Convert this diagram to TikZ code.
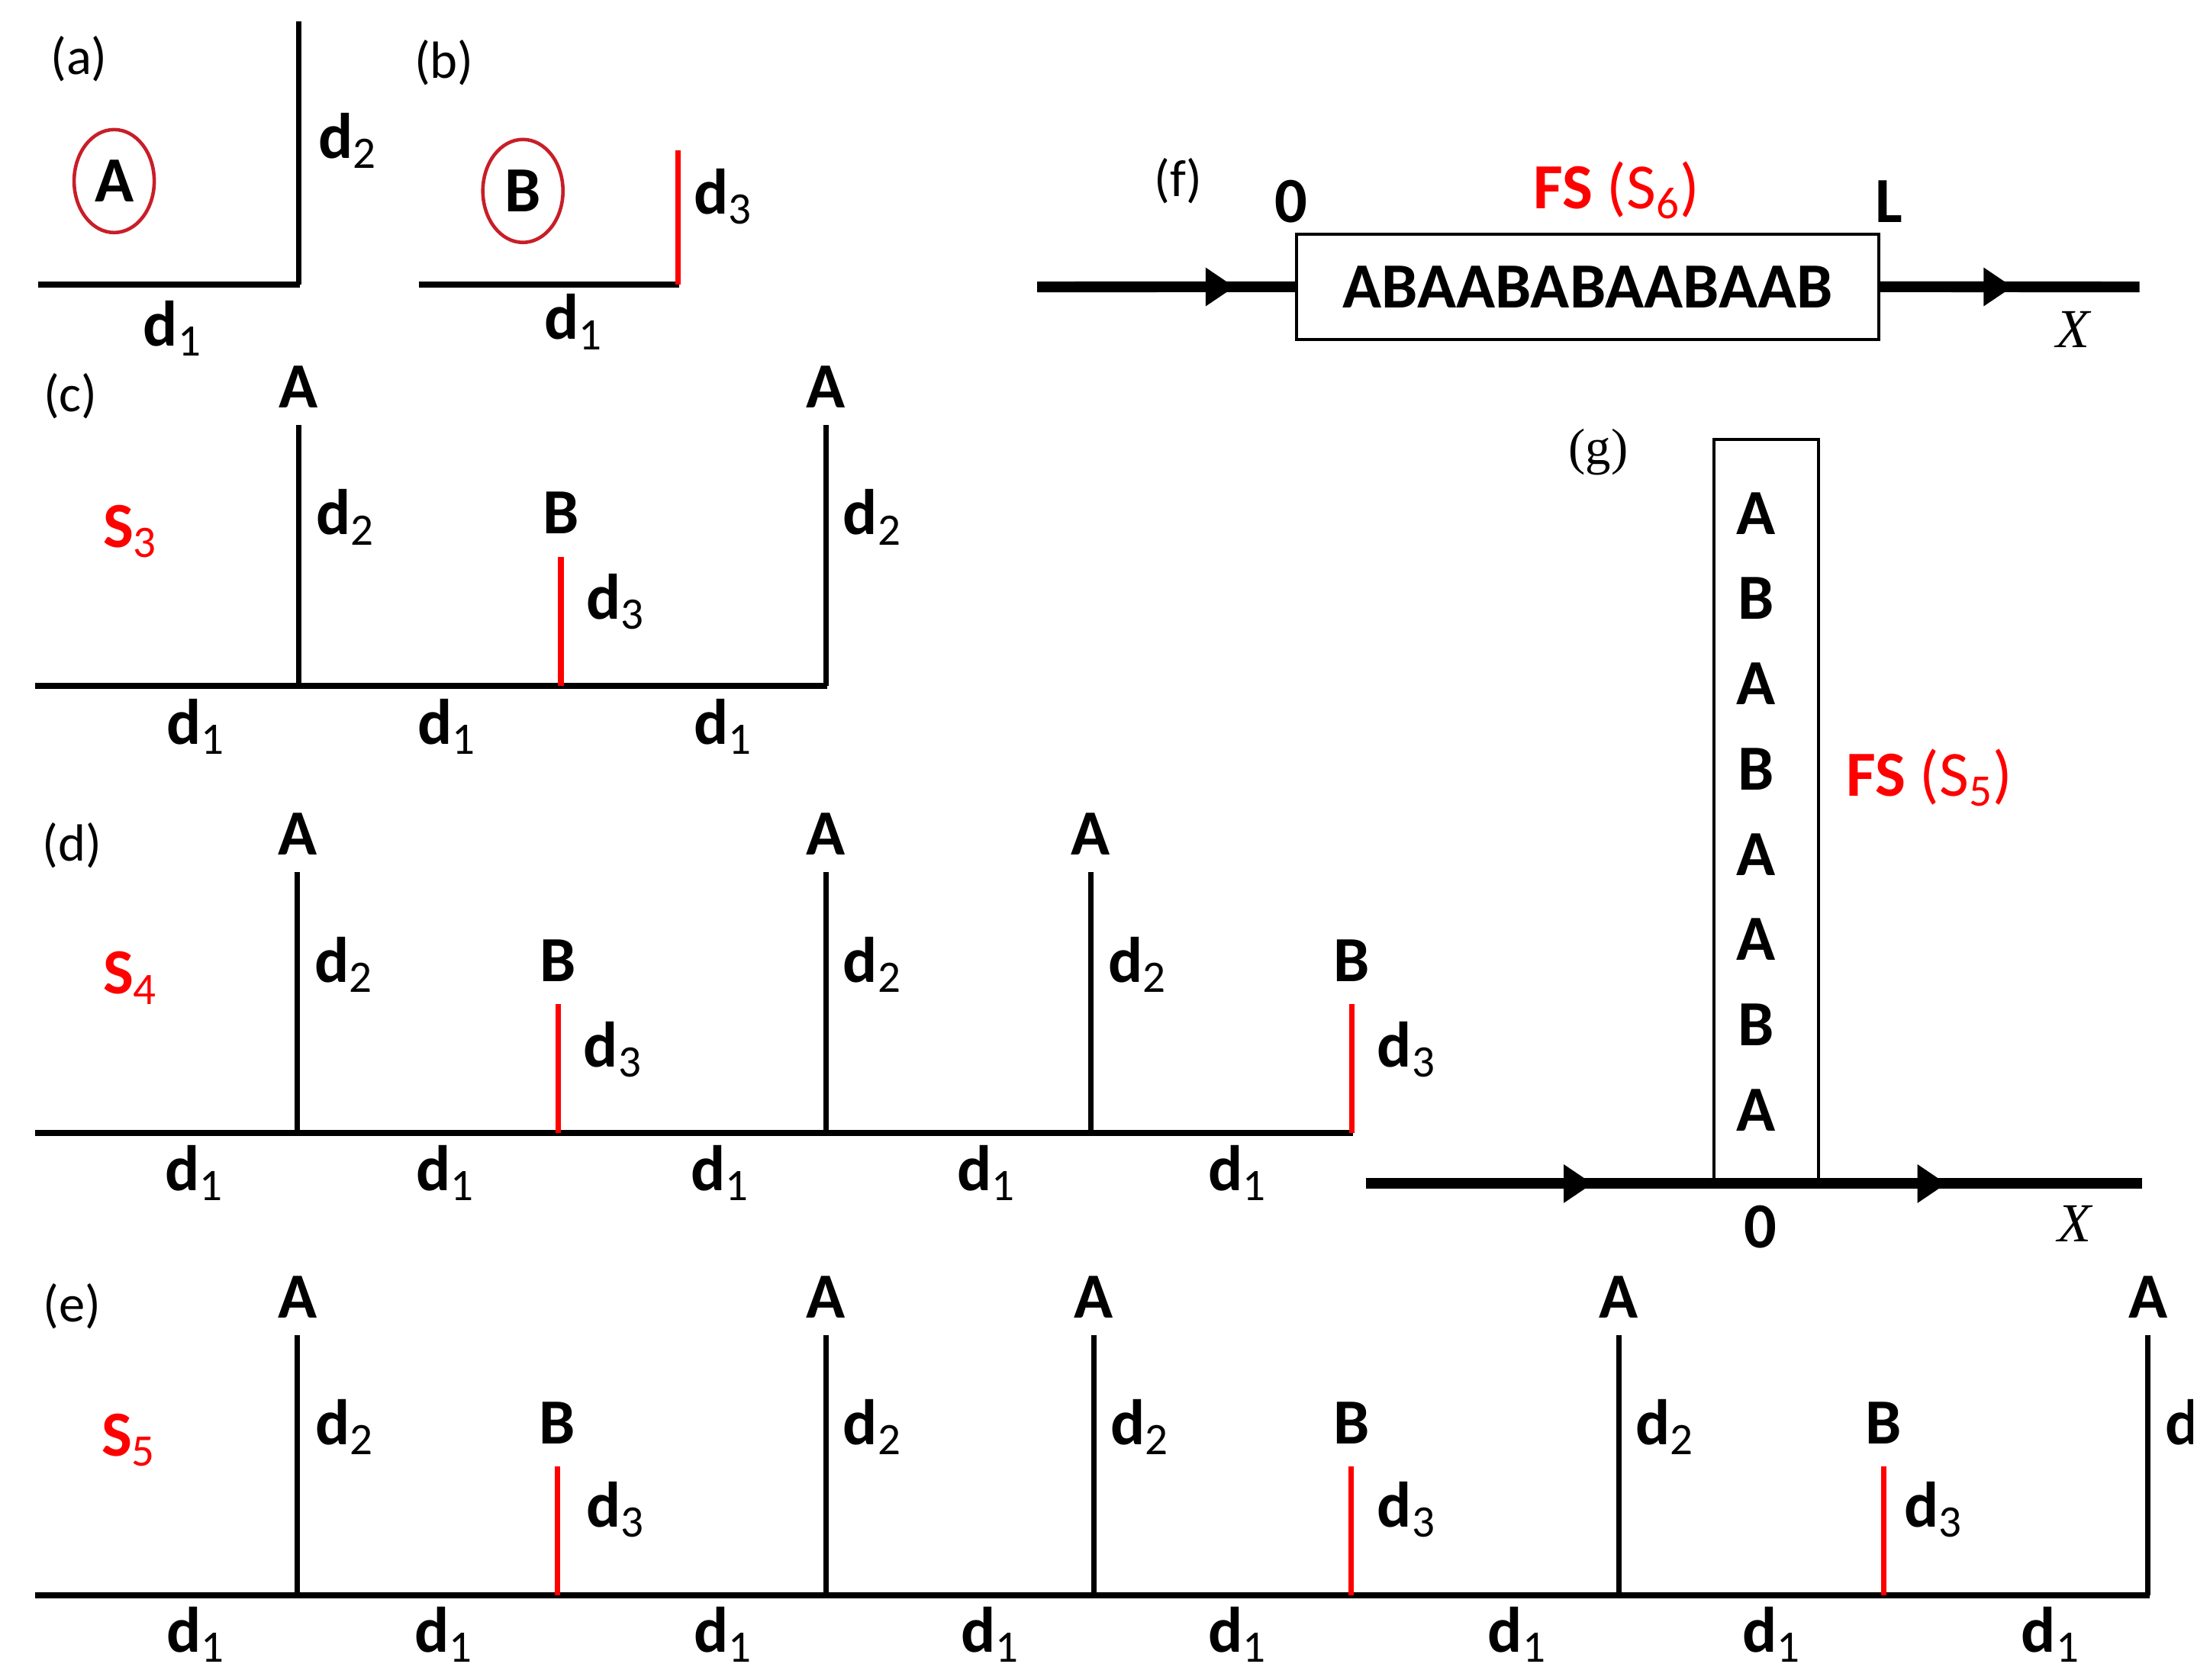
\documentclass[tikz,border=0pt]{standalone}
\usepackage{fontspec}
\setsansfont{Carlito}
\newfontfamily\serifx{Liberation Serif}
\usetikzlibrary{arrows.meta,shapes.geometric}
\definecolor{ringred}{RGB}{200,30,40}
\newcommand{\dlab}[1]{\textbf{d}\textsubscript{#1}}
\newcommand{\slab}[1]{\textbf{S}\textsubscript{#1}}
\begin{document}
\begin{tikzpicture}[x=0.18469mm,y=-0.18469mm,
    every node/.style={font=\sffamily\fontsize{24}{28}\selectfont},
    tag/.style={font=\sffamily\fontsize{19.5}{23}\selectfont},
    lett/.style={font=\sffamily\bfseries\fontsize{24}{28}\selectfont},
    alab/.style={lett,above=1.9mm,inner sep=0pt,text=black},
    blab/.style={lett,above=2.6mm,inner sep=0pt,text=black},
    base/.style={line width=2.4pt},
    tickA/.style={line width=2.1pt},
    tickB/.style={line width=2.1pt,red},
    ring/.style={ellipse,draw=ringred,line width=1.3pt,inner sep=0pt,minimum width=10.5mm,minimum height=13.5mm,lett},
    axisline/.style={line width=4pt},
    arrowtip/.style={-{Triangle[length=3.8mm,width=4.8mm]}},
    xlab/.style={font=\serifx\itshape\fontsize{20.5}{24}\selectfont},
  ]
\useasboundingbox (0,0) rectangle (1568,1191.7);
\clip (0,0) rectangle (1556,1191.7);
% (a) cell A
\node[tag] (ta) at (56,42) {(a)};
\draw[base] (27,202) -- (213,202);
\draw[tickA] (212,202) -- (212,15);
\node (aD2) at (247,100) {\dlab{2}};
\node (aD1) at (122.6,233) {\dlab{1}};
\node[ring] (cellA) at (81,128.5) {A};
% (b) cell B
\node[tag] (tb) at (315,44.5) {(b)};
\draw[base] (297,202) -- (482,202);
\draw[tickB] (481,202) -- (481,106.5);
\node (bD3) at (513,139.5) {\dlab{3}};
\node (bD1) at (407,228.4) {\dlab{1}};
\node[ring] (cellB) at (371,135.5) {B};
% (c) S3
\node[tag] (tc) at (50,281) {(c)};
\node[text=red] (S3) at (92.5,377) {\slab{3}};
\draw[base] (25,486.8) -- (587,486.8);
\draw[tickA] (212,486.8) -- (212,301.6) node[alab] (cA1) {A};
\draw[tickB] (398,486.8) -- (398,395) node[blab] (cB1) {B};
\draw[tickA] (586,486.8) -- (586,301.6) node[alab] (cA2) {A};
\node (cD2a) at (245,367) {\dlab{2}};
\node (cD3a) at (437,427) {\dlab{3}};
\node (cD2b) at (619,367) {\dlab{2}};
\node (cD1a) at (139,515.5) {\dlab{1}};
\node (cD1b) at (317,515.5) {\dlab{1}};
\node (cD1c) at (513,515.5) {\dlab{1}};
% (d) S4
\node[tag] (td) at (51,600) {(d)};
\node[text=red] (S4) at (92.5,694) {\slab{4}};
\draw[base] (25,804) -- (960,804);
\draw[tickA] (211,804) -- (211,619) node[alab] (dA1) {A};
\draw[tickB] (396,804) -- (396,712.5) node[blab] (dB1) {B};
\draw[tickA] (586,804) -- (586,619) node[alab] (dA2) {A};
\draw[tickA] (774,804) -- (774,619) node[alab] (dA3) {A};
\draw[tickB] (959,804) -- (959,712.5) node[blab] (dB2) {B};
\node (dD2a) at (244,684.5) {\dlab{2}};
\node (dD3a) at (435,745) {\dlab{3}};
\node (dD2b) at (619,684.5) {\dlab{2}};
\node (dD2c) at (807,684.5) {\dlab{2}};
\node (dD3b) at (998,745) {\dlab{3}};
\node (dD1a) at (138,832.5) {\dlab{1}};
\node (dD1b) at (316,832.5) {\dlab{1}};
\node (dD1c) at (511,832.5) {\dlab{1}};
\node (dD1d) at (700,832.5) {\dlab{1}};
\node (dD1e) at (878,832.5) {\dlab{1}};
% (e) S5
\node[tag] (te) at (51,927) {(e)};
\node[text=red] (S5) at (91.4,1022) {\slab{5}};
\draw[base] (25,1132) -- (1525,1132);
\draw[tickA] (211,1132) -- (211,947.6) node[alab] (eA1) {A};
\draw[tickB] (395.5,1132) -- (395.5,1040.8) node[blab] (eB1) {B};
\draw[tickA] (586,1132) -- (586,947.6) node[alab] (eA2) {A};
\draw[tickA] (776,1132) -- (776,947.6) node[alab] (eA3) {A};
\draw[tickB] (958.7,1132) -- (958.7,1040.8) node[blab] (eB2) {B};
\draw[tickA] (1148.5,1132) -- (1148.5,947.6) node[alab] (eA4) {A};
\draw[tickB] (1336.4,1132) -- (1336.4,1040.8) node[blab] (eB3) {B};
\draw[tickA] (1524,1132) -- (1524,947.6) node[alab] (eA5) {A};
\node (eD2a) at (244.5,1012.5) {\dlab{2}};
\node (eD3a) at (437,1071.5) {\dlab{3}};
\node (eD2b) at (619,1012.5) {\dlab{2}};
\node (eD2c) at (809,1012.5) {\dlab{2}};
\node (eD3b) at (998,1071.5) {\dlab{3}};
\node (eD2d) at (1181.5,1012.5) {\dlab{2}};
\node (eD3c) at (1372,1071.5) {\dlab{3}};
\node (eD2e) at (1557,1012.5) {\dlab{2}};
\node (eD1a) at (139,1160) {\dlab{1}};
\node (eD1b) at (315,1160) {\dlab{1}};
\node (eD1c) at (513,1160) {\dlab{1}};
\node (eD1d) at (702.5,1160) {\dlab{1}};
\node (eD1e) at (878,1160) {\dlab{1}};
\node (eD1f) at (1076.6,1160) {\dlab{1}};
\node (eD1g) at (1257,1160) {\dlab{1}};
\node (eD1h) at (1455,1160) {\dlab{1}};
% (f) FS (S6) along X
\node[tag] (tf) at (836,128.6) {(f)};
\node[draw,line width=1.1pt,minimum width=76.3mm,minimum height=13.85mm,lett] (fbox) at (1126.5,203.5) {ABAABABAABAAB};
\coordinate (fin) at (736,203.6);
\coordinate (ftip1) at (876,203.6);
\coordinate (ftip2) at (1428,203.6);
\coordinate (fout) at (1518,203.6);
\draw[axisline] (fin) -- (fbox.west);
\draw[axisline] (fbox.east) -- (fout);
\draw[axisline,arrowtip] (fin) -- (ftip1);
\draw[axisline,arrowtip] (fbox.east) -- (ftip2);
\node[lett] (f0) at (916,143) {0};
\node[lett] (fL) at (1340,143) {L};
\node[text=red] (fsS6) at (1147,135) {\textbf{FS} (S\textsubscript{6})};
\node[xlab] (fX) at (1471,234) {X};
% (g) FS (S5) across X
\node[font=\serifx\fontsize{19}{23}\selectfont] (tg) at (1134,320.6) {(g)};
\node[draw,line width=1.1pt,minimum width=13.67mm,minimum height=97.5mm] (gbox) at (1253,576) {};
\node[align=center,font=\sffamily\bfseries\fontsize{24}{31.8}\selectfont] (gseq) at (1246,576) {A\\B\\A\\B\\A\\A\\B\\A};
\coordinate (gin) at (969,840);
\coordinate (gtip1) at (1130,840);
\coordinate (gtip2) at (1381,840);
\coordinate (gout) at (1520,840);
\draw[axisline] (gin) -- (gout);
\draw[axisline,arrowtip] (gin) -- (gtip1);
\draw[axisline,arrowtip] (gtip1) -- (gtip2);
\node[lett] (g0) at (1249,870.5) {0};
\node[xlab] (gX) at (1472,868.5) {X};
\node[text=red] (fsS5) at (1369,552) {\textbf{FS} (S\textsubscript{5})};
\end{tikzpicture}
\end{document}
